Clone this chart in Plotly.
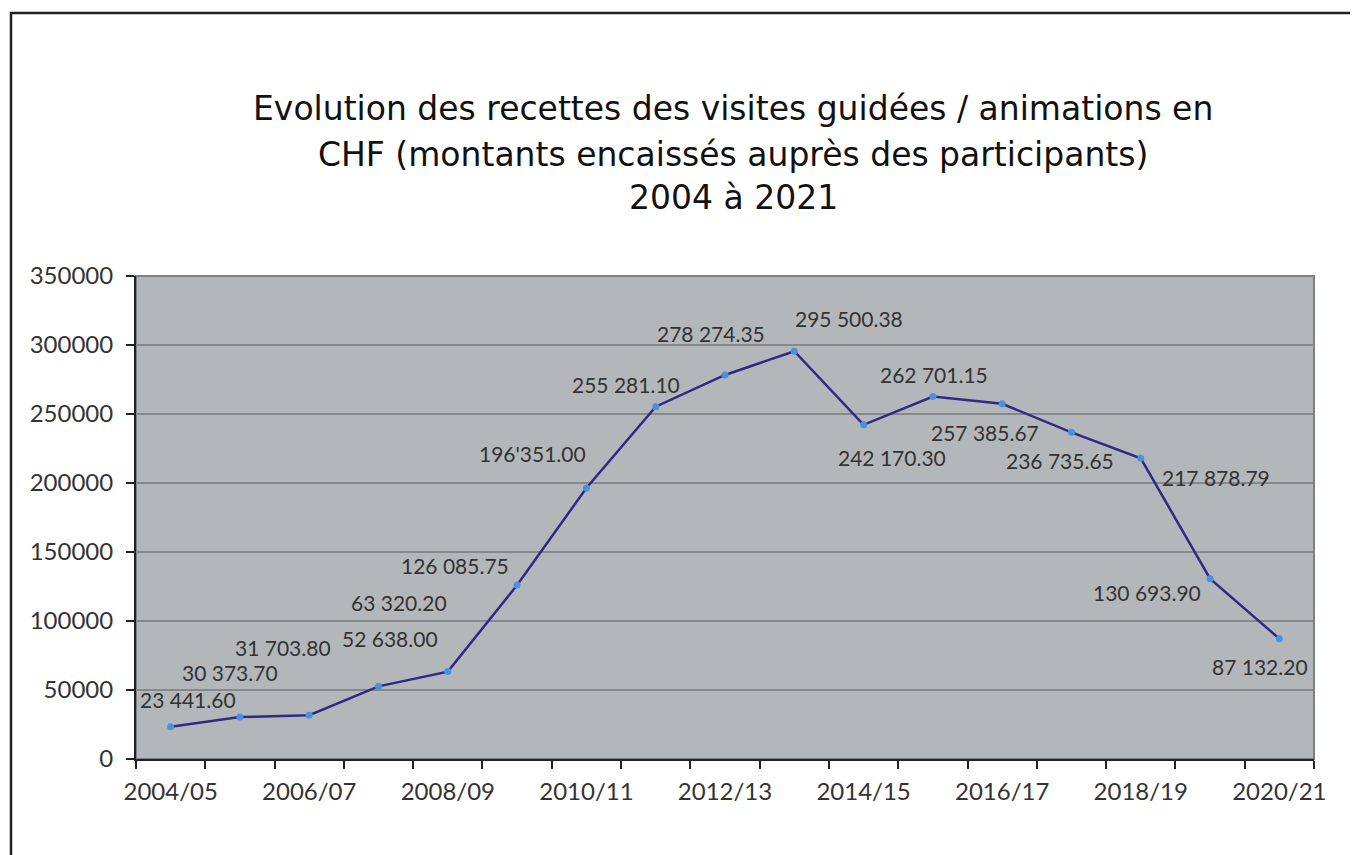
import plotly.graph_objects as go

seasons = ["2004/05", "2005/06", "2006/07", "2007/08", "2008/09", "2009/10",
           "2010/11", "2011/12", "2012/13", "2013/14", "2014/15", "2015/16",
           "2016/17", "2017/18", "2018/19", "2019/20", "2020/21"]
recettes = [23441.60, 30373.70, 31703.80, 52638.00, 63320.20, 126085.75,
            196351.00, 255281.10, 278274.35, 295500.38, 242170.30, 262701.15,
            257385.67, 236735.65, 217878.79, 130693.90, 87132.20]
y_ticks = [0, 50000, 100000, 150000, 200000, 250000, 300000, 350000]

title_lines = ["Evolution des recettes des visites guidées / animations en",
               "CHF (montants encaissés auprès des participants)",
               "2004 à 2021"]


def fmt(v, sep=" "):
    return f"{v:,.2f}".replace(",", sep)


labels = [fmt(v) for v in recettes]
labels[6] = fmt(recettes[6], "'")

# pixel offsets of each value label from its point
label_dx = [17, -10, -26, 11, -49, -62, -54, -30, -14, 55, 28, 1, -17, -11, 75, -63, -19]
label_dy = [-27, -45, -68, -48, -69, -20, -35, -22, -41, -33, 33, -22, 29, 28, 19, 14, 28]

x_idx = list(range(len(seasons)))

# page body has an 8px margin, so the figure is drawn 8px in from the corner
OFF = 8
L, T, PW, PH = 136 - OFF, 276 - OFF, 1178, 483

fig = go.Figure()
fig.add_trace(go.Scatter(
    x=x_idx, y=recettes,
    mode="lines+markers",
    line=dict(color="#2e2a86", width=2.5),
    marker=dict(color="#4a92de", size=7),
    hoverinfo="skip",
))

for i, (x, y) in enumerate(zip(x_idx, recettes)):
    fig.add_annotation(
        x=x, y=y, text=labels[i], showarrow=False,
        xshift=label_dx[i], yshift=-label_dy[i],
        font=dict(family="Lato", size=21, color="#333333"),
    )

title_y = [108, 155, 197]
for line, py in zip(title_lines, title_y):
    fig.add_annotation(
        xref="paper", yref="paper",
        x=(733 - 136) / PW, y=(759 - py) / PH,
        text=line, showarrow=False, xanchor="center", yanchor="middle",
        font=dict(family="DejaVu Sans", size=33, color="#111111"),
    )

# outer frame (left/top edges visible)
fig.add_shape(type="rect", xref="paper", yref="paper",
              x0=(11 - 136) / PW, x1=(1380 - 136) / PW,
              y0=(759 - 880) / PH, y1=(759 - 13) / PH,
              line=dict(color="#222222", width=2.5), fillcolor="rgba(0,0,0,0)")
# plot area border (gray right/top)
fig.add_shape(type="rect", xref="paper", yref="paper", x0=0, x1=1, y0=0, y1=1,
              line=dict(color="#7d7f82", width=2), fillcolor="rgba(0,0,0,0)",
              layer="below")

fig.update_xaxes(
    range=[-0.5, len(seasons) - 0.5],
    tickvals=x_idx[::2], ticktext=seasons[::2],
    ticks="", showgrid=False, zeroline=False,
    showline=True, linecolor="#222222", linewidth=2,
    minor=dict(ticks="outside", tick0=-0.5, dtick=1, ticklen=8,
               tickcolor="#222222", tickwidth=1.5, showgrid=False),
    ticklabelstandoff=10,
    tickfont=dict(family="Lato", size=24, color="#333333"),
)
fig.update_yaxes(
    range=[0, 350000], tickvals=y_ticks, tickformat="d",
    ticks="outside", ticklen=8, tickcolor="#222222", tickwidth=1.5,
    showline=True, linecolor="#222222", linewidth=2,
    showgrid=True, gridcolor="#86888b", gridwidth=1.5, zeroline=False,
    ticklabelstandoff=8,
    tickfont=dict(family="Lato", size=24, color="#333333"),
)

fig.update_layout(
    width=L + PW + 44, height=T + PH + 96,
    margin=dict(l=L, r=44, t=T, b=96),
    plot_bgcolor="#b4b7ba",
    paper_bgcolor="white",
    showlegend=False,
)

fig.write_html("out.html")
